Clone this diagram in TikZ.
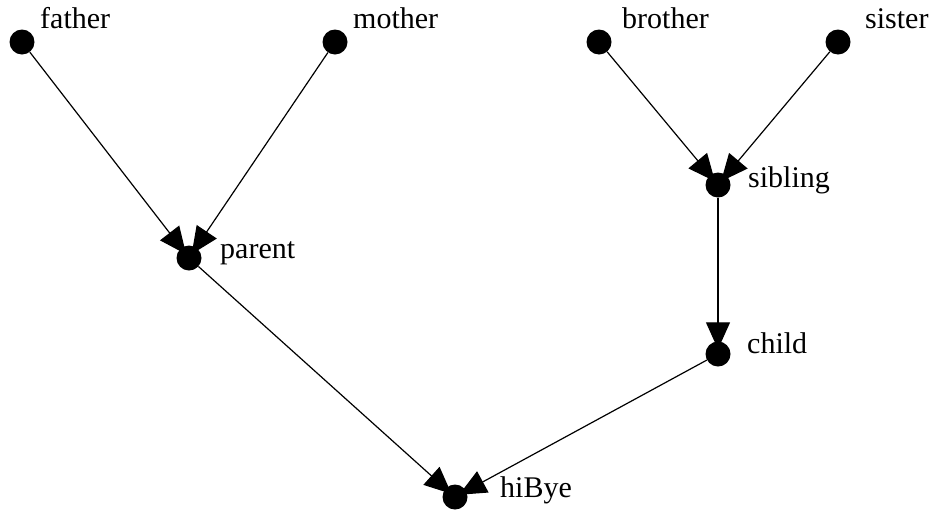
\documentclass[tikz,border=0pt]{standalone}
\usepackage{fontspec}
\setmainfont{Liberation Serif}
\usetikzlibrary{arrows.meta,backgrounds}
\tikzstyle{dotNode}=[circle,fill=black,draw=none,minimum size=25pt,inner sep=0pt]
\tikzstyle{labelNode}=[anchor=base west,inner sep=0pt,font=\fontsize{30}{34}\selectfont]
\tikzstyle{familyEdge}=[-{Triangle[length=27pt,width=24pt]}, line width=1.2pt, shorten >=-8pt]

\begin{document}
\begin{tikzpicture}[x=1pt,y=-1pt]
    \useasboundingbox (0,0) rectangle (942,512);

    % Top row
    \node[dotNode] (father) at (22,42) {};
    \node[labelNode] (fatherText) at (40,28) {father};
    \node[dotNode] (mother) at (335,42) {};
    \node[labelNode] (motherText) at (353,28) {mother};
    \node[dotNode] (brother) at (599,42) {};
    \node[labelNode] (brotherText) at (622,28) {brother};
    \node[dotNode] (sister) at (838,42) {};
    \node[labelNode] (sisterText) at (865,28) {sister};

    % Middle
    \node[dotNode] (parent) at (189,258) {};
    \node[labelNode] (parentText) at (220,258) {parent};
    \node[dotNode] (sibling) at (718,185) {};
    \node[labelNode] (siblingText) at (748,187) {sibling};
    \node[dotNode] (child) at (718,354) {};
    \node[labelNode] (childText) at (747,353) {child};

    % Bottom
    \node[dotNode] (hiBye) at (455,497) {};
    \node[labelNode] (hiByeText) at (500,497) {hiBye};

    % Edges go under the dots
    \begin{scope}[on background layer]
    \draw[familyEdge] (father) -- (parent);
    \draw[familyEdge] (mother) -- (parent);
    \draw[familyEdge] (brother) -- (sibling);
    \draw[familyEdge] (sister) -- (sibling);
    \draw[familyEdge] (sibling) -- (child);
    \draw[familyEdge] (parent) -- (hiBye);
    \draw[familyEdge] (child) -- (hiBye);
    \end{scope}

\end{tikzpicture}
\end{document}
